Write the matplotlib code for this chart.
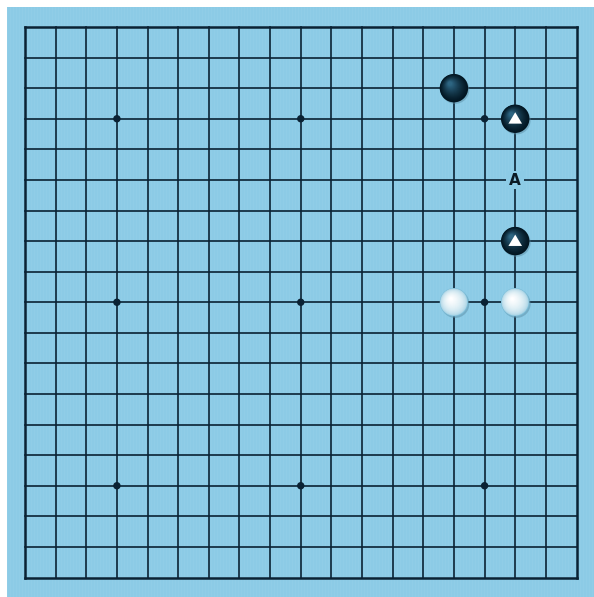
import matplotlib
matplotlib.use("Agg")
import matplotlib.pyplot as plt
import numpy as np
from matplotlib.patches import Circle, Rectangle, Polygon

# ---- data ----
board_size = 19
star_points = [(3, 3), (9, 3), (15, 3), (3, 9), (9, 9), (15, 9), (3, 15), (9, 15), (15, 15)]
black_stones = [(14, 2), (16, 3), (16, 7)]
white_stones = [(14, 9), (16, 9)]
triangle_marks = [(16, 3), (16, 7)]
labels = [(16, 5, "A")]

W, H = 594, 597
fig = plt.figure(figsize=(W / 100, H / 100), dpi=100)
ax = fig.add_axes([0, 0, 1, 1])
ax.set_xlim(0, W)
ax.set_ylim(H, 0)
ax.axis("off")

x0, x1 = 25, 576.5
y0, y1 = 27, 577.5
dx = (x1 - x0) / (board_size - 1)
dy = (y1 - y0) / (board_size - 1)

def px(c, r):
    return x0 + c * dx, y0 + r * dy

board_col = "#8ccbe6"
line_col = "#0a2234"
ax.add_patch(Rectangle((7, 7), W - 7, H - 7, facecolor=board_col, edgecolor="none", zorder=0))
for i in range(7, W, 3):
    ax.plot([i, i], [7, H], color="#9ad3ea", lw=0.6, alpha=0.35, zorder=0.5)

for i in range(board_size):
    lw = 1.8 if i in (0, board_size - 1) else 1.2
    x, _ = px(i, 0)
    ax.plot([x, x], [y0, y1], color=line_col, lw=lw, zorder=1, solid_capstyle="projecting")
    _, y = px(0, i)
    ax.plot([x0, x1], [y, y], color=line_col, lw=lw, zorder=1, solid_capstyle="projecting")

for c, r in star_points:
    x, y = px(c, r)
    ax.add_patch(Circle((x, y), 3.0, color=line_col, zorder=2))

R = 14.2
def shaded_stone(x, y, outer, inner, n=20, shift=(-4.0, -4.5), gamma=1.0, shrink=0.85):
    o = np.array(matplotlib.colors.to_rgb(outer))
    ic = np.array(matplotlib.colors.to_rgb(inner))
    for k in range(n):
        t = k / (n - 1)
        rad = R * (1 - shrink * t)
        cx = x + shift[0] * t
        cy = y + shift[1] * t
        tc = t ** gamma
        col = o * (1 - tc) + ic * tc
        ax.add_patch(Circle((cx, cy), rad, facecolor=col, edgecolor="none", zorder=3 + 0.01 * k))

for c, r in black_stones:
    x, y = px(c, r)
    ax.add_patch(Circle((x + 1.2, y + 1.5), R, facecolor="#5b8ea6", alpha=0.5, edgecolor="none", zorder=2.5))
    shaded_stone(x, y, "#021622", "#2d6582", gamma=1.3)

for c, r in white_stones:
    x, y = px(c, r)
    ax.add_patch(Circle((x + 1.2, y + 1.5), R, facecolor="#5b8ea6", alpha=0.5, edgecolor="none", zorder=2.5))
    shaded_stone(x, y, "#7cbdd8", "#ffffff", gamma=0.35, shrink=0.9, shift=(-3.0, -3.5))

for c, r in triangle_marks:
    x, y = px(c, r)
    s = 6.5
    ax.add_patch(Polygon([(x, y - s), (x - s * 1.05, y + s * 0.75), (x + s * 1.05, y + s * 0.75)],
                         closed=True, facecolor="white", edgecolor="none", zorder=5))

for c, r, t in labels:
    x, y = px(c, r)
    ax.add_patch(Rectangle((x - 9, y - 9), 18, 18, facecolor=board_col, edgecolor="none", zorder=2))
    ax.text(x, y + 0.5, t, ha="center", va="center", fontsize=11, fontweight="bold",
            color="#0b1a24", family="DejaVu Sans", zorder=6)

fig.savefig("out.png", dpi=100)
